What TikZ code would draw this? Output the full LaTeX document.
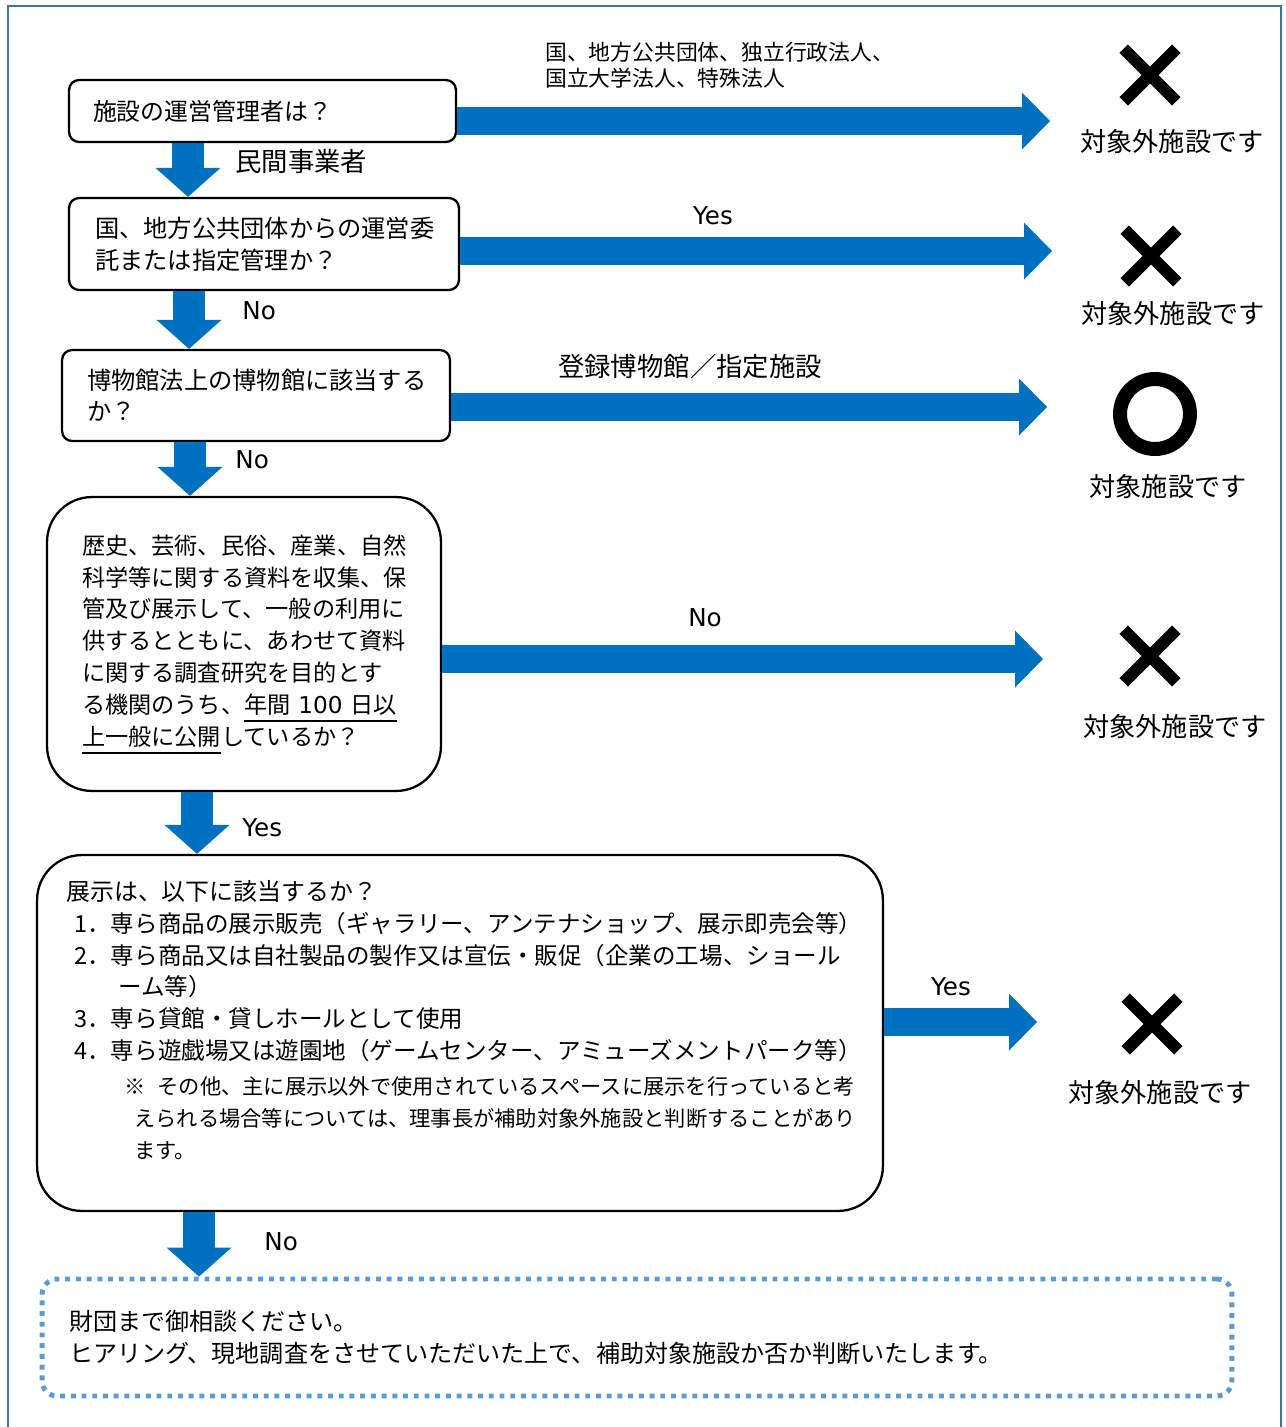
\documentclass[tikz,border=0pt]{standalone}
\usepackage{fontspec}
\setmainfont{Noto Sans CJK JP}
\newfontfamily\latinfont{DejaVu Sans}
\usetikzlibrary{arrows.meta}

\definecolor{flowblue}{HTML}{0070C0}
\definecolor{dotblue}{HTML}{5B9BD5}
\definecolor{frameblue}{HTML}{41719C}

% underline with a heavier rule
\newcommand{\ulmark}[1]{\leavevmode\vtop{\hbox{#1}\kern2.4pt\hrule height 1.1pt}}

\begin{document}
\begin{tikzpicture}[x=0.02cm, y=-0.02cm,
    qbox/.style={draw, line width=1.3pt, rounded corners=0.2cm, align=left, inner ysep=0pt},
    notebox/.style={draw=dotblue, line width=2.8pt, dash pattern=on 2.8pt off 3.3pt,
      rounded corners=0.3cm, align=left, inner ysep=0pt},
    rarrow/.style={flowblue, line width=0.56cm,
      -{Triangle[length=0.56cm, width=1.14cm, line width=0pt]}},
    darrow/.style={flowblue, line width=0.64cm,
      -{Triangle[length=0.58cm, width=1.3cm, line width=0pt]}},
    lbl/.style={font=\fontsize{15}{18}\selectfont, inner sep=0pt},
    yn/.style={font=\latinfont\fontsize{14}{17}\selectfont, inner sep=0pt},
    result/.style={font=\fontsize{14.9}{18}\selectfont, inner sep=0pt},
    xmark/.style={minimum size=1.04cm, inner sep=0pt},
    xline/.style={line width=0.24cm}]

  \useasboundingbox (0,0) rectangle (1285,1427);
  % Frame
  \draw[frameblue, line width=1.1pt] (8,1427) -- (8,6) -- (1281,6) -- (1281,1427);

  % Question boxes
  \node[qbox, minimum width=7.74cm, minimum height=1.24cm, text width=6.78cm, inner xsep=0.48cm,
    font=\fontsize{13.6}{18.1}\selectfont] (q1) at (262.5,111) {施設の運営管理者は？};
  \node[qbox, minimum width=7.8cm, minimum height=1.84cm, text width=6.76cm, inner xsep=0.52cm,
    font=\fontsize{13.8}{18.1}\selectfont] (q2) at (264,244)
    {国、地方公共団体からの運営委\\託または指定管理か？};
  \node[qbox, minimum width=7.76cm, minimum height=1.82cm, text width=6.76cm, inner xsep=0.5cm,
    font=\fontsize{13.8}{17.6}\selectfont] (q3) at (256,395.5)
    {博物館法上の博物館に該当する\\か？};
  \node[qbox, rounded corners=0.9cm, minimum width=7.88cm, minimum height=5.88cm, text width=6.48cm,
    inner xsep=0.7cm, font=\fontsize{13.2}{18.14}\selectfont] (q4) at (244,644)
    {歴史、芸術、民俗、産業、自然\\
     科学等に関する資料を収集、保\\
     管及び展示して、一般の利用に\\
     供するとともに、あわせて資料\\
     に関する調査研究を目的とす\\
     る機関のうち、\ulmark{年間 {\latinfont 100} 日以}\\
     \ulmark{上一般に公開}しているか？};
  \node[qbox, rounded corners=0.9cm, minimum width=16.92cm, minimum height=7.12cm] (q5) at (460,1033) {};
  \node[anchor=north west, inner sep=0pt, align=left, font=\fontsize{13.4}{18.1}\selectfont]
    (q5txt) at (66,880)
    {{\fontsize{13.6}{18.1}\selectfont 展示は、以下に該当するか？}\\
     \hspace*{0.16cm}1．専ら商品の展示販売（ギャラリー、アンテナショップ、展示即売会等）\\
     \hspace*{0.16cm}2．専ら商品又は自社製品の製作又は宣伝・販促（企業の工場、ショール\\
     \hspace*{1.04cm}ーム等）\\
     \hspace*{0.16cm}3．専ら貸館・貸しホールとして使用\\
     \hspace*{0.16cm}4．専ら遊戯場又は遊園地（ゲームセンター、アミューズメントパーク等）\\[2pt]
     {\fontsize{12.1}{18.1}\selectfont\hspace*{1.16cm}※\hspace{0.24cm}その他、主に展示以外で使用されているスペースに展示を行っていると考}\\
     {\fontsize{12.1}{18.1}\selectfont\hspace*{1.36cm}えられる場合等については、理事長が補助対象外施設と判断することがあり}\\
     {\fontsize{12.1}{18.1}\selectfont\hspace*{1.36cm}ます。}};
  % Final box
  \node[notebox, minimum width=23.8cm, minimum height=2.34cm, text width=22.72cm, inner xsep=0.54cm,
    font=\fontsize{13.7}{18.1}\selectfont] (fin) at (637,1337.5)
    {財団まで御相談ください。\\
     ヒアリング、現地調査をさせていただいた上で、補助対象施設か否か判断いたします。};

  % Results
  \node[xmark] (x1) at (1150,75) {};
  \node[xmark] (x2) at (1151,256) {};
  \node[circle, draw, line width=0.28cm, minimum size=1.4cm, inner sep=0pt] (ok3) at (1155,414) {};
  \node[xmark] (x4) at (1150,656) {};
  \node[xmark] (x5) at (1152,1024) {};
  \foreach \m in {x1,x2,x4,x5}
    \draw[xline] (\m.north west) -- (\m.south east) (\m.north east) -- (\m.south west);
  \node[result] (r1) at (1172,142) {対象外施設です};
  \node[result] (r2) at (1173,314) {対象外施設です};
  \node[result] (r3) at (1168,487) {対象施設です};
  \node[result] (r4) at (1175,727) {対象外施設です};
  \node[result] (r5) at (1160,1093) {対象外施設です};

  % Arrow tips to the right
  \coordinate (t1) at (1050,121);
  \coordinate (t2) at (1052,251);
  \coordinate (t3) at (1047,407);
  \coordinate (t4) at (1043,659);
  \coordinate (t5) at (1037,1022);
  \draw[rarrow] (q1.east |- t1) -- (t1);
  \draw[rarrow] (q2.east |- t2) -- (t2);
  \draw[rarrow] (q3.east |- t3) -- (t3);
  \draw[rarrow] (q4.east |- t4) -- (t4);
  \draw[rarrow] (q5.east |- t5) -- (t5);

  % Arrows downwards
  \draw[darrow] (q1.south -| 188,0) -- (q2.north -| 188,0);
  \draw[darrow] (q2.south -| 189,0) -- (q3.north -| 189,0);
  \draw[darrow] (q3.south -| 190,0) -- (q4.north -| 190,0);
  \draw[darrow] (q4.south -| 197,0) -- (q5.north -| 197,0);
  \draw[darrow] (q5.south -| 199,0) -- (fin.north -| 199,0);

  % Labels
  \node[anchor=west, inner sep=0pt, align=left, font=\fontsize{12.4}{14.7}\selectfont] (l1) at (545,65)
    {国、地方公共団体、独立行政法人、\\国立大学法人、特殊法人};
  \node[lbl, anchor=west] (l2) at (235,162) {民間事業者};
  \node[yn] (l3) at (713,216) {Yes};
  \node[yn, anchor=west] (l4) at (242,311) {No};
  \node[lbl] (l5) at (690,366) {登録博物館／指定施設};
  \node[yn, anchor=west] (l6) at (235,460) {No};
  \node[yn] (l7) at (705,618) {No};
  \node[yn, anchor=west] (l8) at (242,828) {Yes};
  \node[yn] (l9) at (951,987) {Yes};
  \node[yn, anchor=west] (l10) at (264,1242) {No};
\end{tikzpicture}
\end{document}
